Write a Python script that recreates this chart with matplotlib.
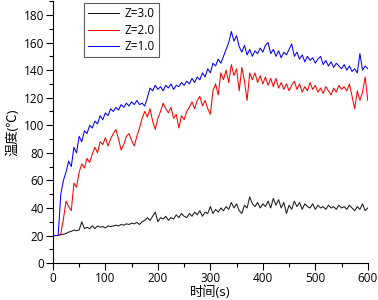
import numpy as np
import matplotlib
matplotlib.use("Agg")
import matplotlib.pyplot as plt
from matplotlib.ticker import MultipleLocator

plt.rcParams['font.family'] = ['Open Sans', 'Noto Sans CJK SC', 'DejaVu Sans']

# time axis, one reading every 5 s
time_s = np.arange(0, 605, 5)

# Z=3.0
temp_z3 = [20, 20, 20, 20.5, 21, 21.5, 22.5, 23, 24, 23.5,
           24, 30, 25, 26, 25, 27, 25, 27, 26, 26.5,
           25.5, 27, 26.5, 27, 27.5, 27, 28, 27.5, 28.5, 28,
           29, 28.5, 29.5, 28, 30, 31, 33, 31, 34, 37,
           30, 33, 32, 34, 31, 33, 32, 35, 33, 36,
           34, 33, 36, 34, 37, 35, 38, 34, 37, 36,
           41, 36, 39, 37, 40, 38, 41, 39, 44, 40,
           43, 38, 36, 42, 40, 48, 43, 41, 44, 40,
           43, 41, 45, 40, 47, 42, 46, 40, 44, 36,
           42, 39, 45, 41, 44, 39, 43, 41, 40, 43,
           39, 42, 40, 41, 39, 42, 40, 41, 39, 42,
           40, 41, 39, 42, 40, 38, 41, 39, 43, 38, 40]

# Z=2.0
temp_z2 = [20, 20, 20, 21, 32, 45, 41, 38, 58, 55,
           66, 72, 69, 76, 73, 79, 84, 80, 88, 86,
           91, 85, 90, 94, 97, 90, 82, 86, 92, 94,
           89, 85, 92, 98, 105, 110, 106, 112, 103, 97,
           105, 110, 116, 112, 109, 113, 105, 108, 98, 107,
           104, 110, 113, 117, 112, 118, 121, 114, 118, 112,
           108, 125, 130, 122, 138, 133, 140, 131, 144, 136,
           141, 125, 142, 132, 118, 138, 133, 138, 131, 136,
           130, 135, 129, 134, 128, 134, 127, 131, 126, 130,
           125, 129, 132, 126, 130, 124, 128, 125, 131, 126,
           129, 124, 127, 123, 128, 125, 122, 127, 124, 129,
           126, 128, 125, 130, 121, 112, 125, 118, 124, 135, 118]

# Z=1.0
temp_z1 = [20, 20, 20, 50, 60, 66, 74, 70, 84, 80,
           92, 88, 96, 94, 100, 98, 103, 101, 107, 104,
           109, 107, 112, 110, 113, 111, 115, 113, 116, 114,
           117, 115, 118, 115, 116, 114, 120, 127, 125, 129,
           126, 128, 125, 129, 127, 130, 126, 129, 128, 131,
           129, 132, 130, 134, 131, 135, 133, 138, 135, 141,
           138, 145, 143, 148, 145, 150, 155, 160, 168, 161,
           165, 157, 153, 158, 151, 155, 150, 154, 152, 156,
           153, 158, 160, 152, 155, 150, 154, 149, 153, 151,
           155, 159, 150, 153, 148, 151, 146, 150, 147, 149,
           145, 148, 150, 144, 147, 143, 146, 142, 145, 143,
           141, 144, 140, 143, 139, 141, 138, 152, 140, 143, 141]

fig = plt.figure(figsize=(3.78, 3.0), dpi=100)
ax = fig.add_axes([0.140, 0.123, 0.833, 0.873])

ax.plot(time_s, temp_z3, color="#1a1a1a", lw=0.75, label="Z=3.0")
ax.plot(time_s, temp_z2, color="#ff0000", lw=0.75, label="Z=2.0")
ax.plot(time_s, temp_z1, color="#0000ff", lw=0.75, label="Z=1.0")

ax.set_xlim(0, 600)
ax.set_ylim(0, 190)
ax.xaxis.set_major_locator(MultipleLocator(100))
ax.xaxis.set_minor_locator(MultipleLocator(50))
ax.yaxis.set_minor_locator(MultipleLocator(10))
ax.set_yticks(np.arange(0, 181, 20))
ax.tick_params(which="major", direction="out", length=5, width=0.8, labelsize=8.5, pad=1.5)
ax.tick_params(which="minor", direction="out", length=3, width=0.8)
for s in ["top", "right"]:
    ax.spines[s].set_visible(False)

ax.set_xlabel("时间(s)", fontsize=9.5, labelpad=0)
ax.set_ylabel("温度(℃)", fontsize=9.5, labelpad=3)

leg = ax.legend(loc="upper left", bbox_to_anchor=(0.098, 0.993), fontsize=8.5,
                frameon=True, fancybox=False, edgecolor="#333333",
                handlelength=2.6, handletextpad=0.5, borderpad=0.35,
                borderaxespad=0, labelspacing=0.3)
leg.get_frame().set_linewidth(0.8)

fig.savefig("out.png", dpi=100)
